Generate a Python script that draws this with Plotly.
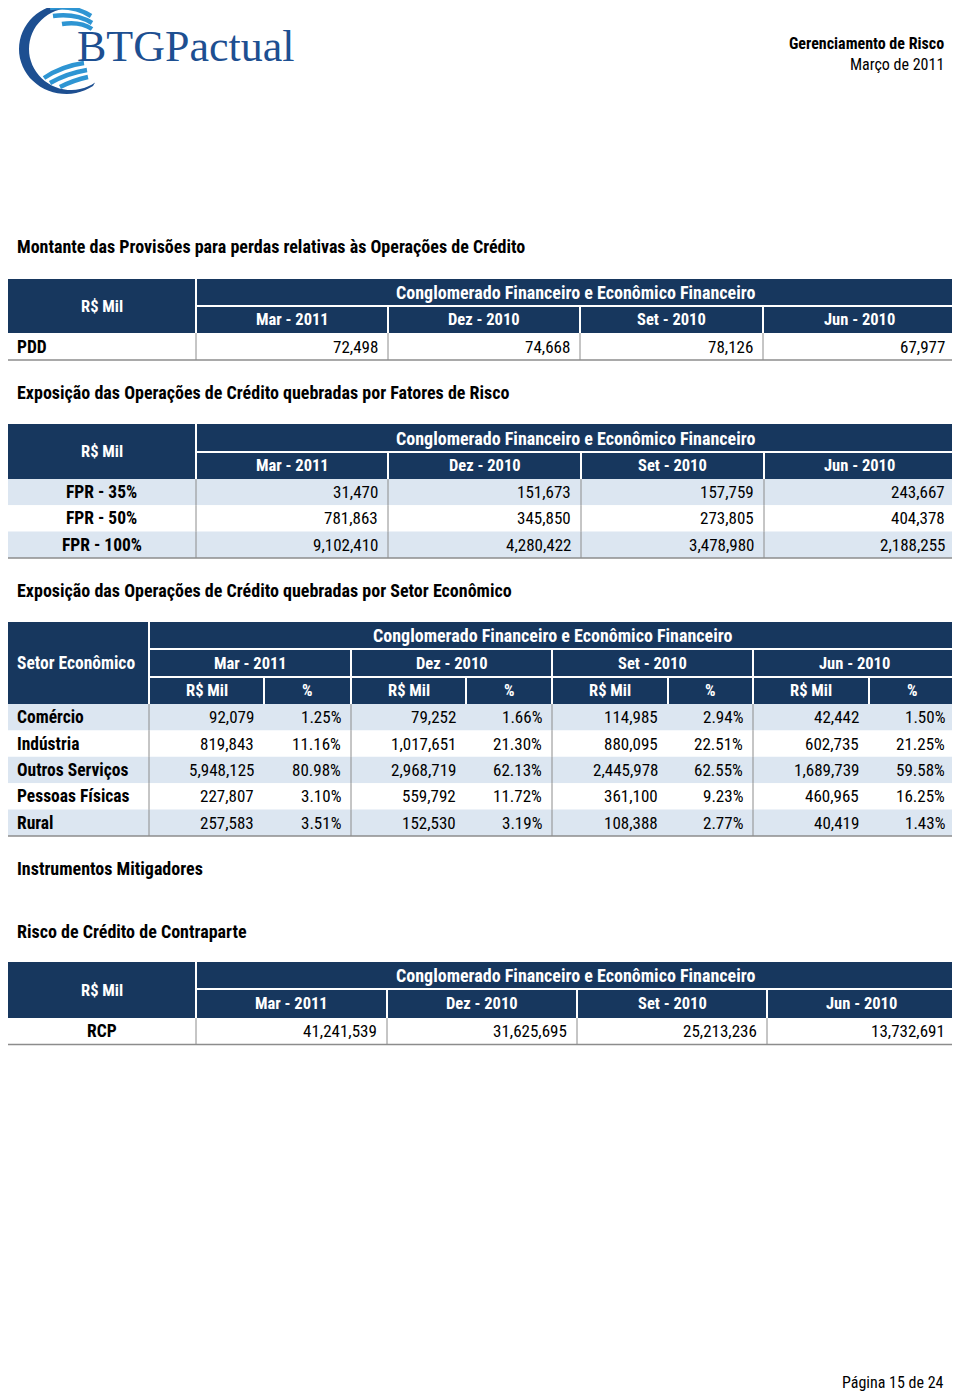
import math
import plotly.graph_objects as go

# ---------------- DATA ----------------
periods = ["Mar - 2011", "Dez - 2010", "Set - 2010", "Jun - 2010"]
group_title = "Conglomerado Financeiro e Econômico Financeiro"

section_titles = [
    "Montante das Provisões para perdas relativas às Operações de Crédito",
    "Exposição das Operações de Crédito quebradas por Fatores de Risco",
    "Exposição das Operações de Crédito quebradas por Setor Econômico",
    "Instrumentos Mitigadores",
    "Risco de Crédito de Contraparte",
]

pdd_label = "PDD"
pdd_values = [72498, 74668, 78126, 67977]

fpr_labels = ["FPR - 35%", "FPR - 50%", "FPR - 100%"]
fpr_mar = [31470, 781863, 9102410]
fpr_dez = [151673, 345850, 4280422]
fpr_set = [157759, 273805, 3478980]
fpr_jun = [243667, 404378, 2188255]

sectors = ["Comércio", "Indústria", "Outros Serviços", "Pessoas Físicas", "Rural"]
sec_mar_val = [92079, 819843, 5948125, 227807, 257583]
sec_mar_pct = [1.25, 11.16, 80.98, 3.10, 3.51]
sec_dez_val = [79252, 1017651, 2968719, 559792, 152530]
sec_dez_pct = [1.66, 21.30, 62.13, 11.72, 3.19]
sec_set_val = [114985, 880095, 2445978, 361100, 108388]
sec_set_pct = [2.94, 22.51, 62.55, 9.23, 2.77]
sec_jun_val = [42442, 602735, 1689739, 460965, 40419]
sec_jun_pct = [1.50, 21.25, 59.58, 16.25, 1.43]
sub_headers = ["R$ Mil", "%"]

rcp_label = "RCP"
rcp_values = [41241539, 31625695, 25213236, 13732691]

doc_title = "Gerenciamento de Risco"
doc_date = "Março de 2011"
page_text = "Página 15 de 24"
logo_text = "BTGPactual"

# ---------------- STYLE ----------------
W, H = 960, 1394
OFF = 8  # page body margin compensation
FONT = "Liberation Sans Narrow, Arial Narrow, Roboto Condensed, Liberation Sans, sans-serif"
NAVY = "#17375E"
LIGHT = "#DCE6F1"
GRID = "#8C8C8C"
FS = 17        # regular values
FS_LAB = 17.5  # bold row labels
FS_HEAD = 16.5 # header cells
FS_TITLE = 18  # section titles / group title

shapes = []
annotations = []


def rect(x0, y0, x1, y1, fill):
    shapes.append(dict(type="rect", xref="x", yref="y", x0=x0, y0=y0, x1=x1, y1=y1,
                       fillcolor=fill, line=dict(width=0), layer="below"))


def line(x0, y0, x1, y1, color, width=1):
    shapes.append(dict(type="line", xref="x", yref="y", x0=x0, y0=y0, x1=x1, y1=y1,
                       line=dict(color=color, width=width), layer="above"))


def text(x, y, s, anchor="left", bold=False, size=FS, color="black", family=FONT):
    if bold:
        s = "<b>" + s + "</b>"
    dx = {"left": -2, "right": 2}.get(anchor, 0)
    annotations.append(dict(x=x + dx, y=y, xref="x", yref="y", text=s, showarrow=False,
                            xanchor=anchor, yanchor="middle",
                            font=dict(family=family, size=size, color=color)))


def fmt_int(v):
    return f"{v:,}"


def fmt_pct(v):
    return f"{v:.2f}%"


LEFT, RIGHT, PAD = 7, 955, 10

# ---------------- HEADER ----------------
text(944, 43, doc_title, anchor="right", bold=True, size=16)
text(944, 64, doc_date, anchor="right", size=16)
text(944, 1382, page_text, anchor="right", size=16)

# ---------------- LOGO ----------------
def arc_pts(cx, cy, rx, ry, a0, a1, n=40):
    pts = []
    for i in range(n + 1):
        a = math.radians(a0 + (a1 - a0) * i / n)
        pts.append((cx + rx * math.cos(a), cy - ry * math.sin(a)))
    return pts

outer = arc_pts(66, 49, 47, 45, 78, 305)
inner = arc_pts(71, 49, 42, 41, 305, 78)
path = "M " + " L ".join(f"{x:.1f},{y:.1f}" for x, y in outer + inner) + " Z"
shapes.append(dict(type="path", xref="x", yref="y", path=path,
                   fillcolor="#1D4F91", line=dict(width=0), layer="above"))
stripe_paths = [
    "M 50,8 Q 74,5 91,16", "M 53,16 Q 76,13 92,23", "M 62,24 Q 80,21 92,29",
    "M 44,78 Q 62,66 84,63", "M 50,83 Q 68,73 87,70", "M 60,87 Q 74,80 88,77",
]
for p in stripe_paths:
    shapes.append(dict(type="path", xref="x", yref="y", path=p,
                       line=dict(color="#2E95D3", width=4.5), layer="above"))
text(77, 46, logo_text, anchor="left", size=44, color="#1D4F91",
     family="Liberation Serif, DejaVu Serif, serif")

# ---------------- SECTION TITLES ----------------
title_y = [246, 392, 590, 868, 931]
for t, y in zip(section_titles, title_y):
    text(17, y, t, bold=True, size=FS_TITLE)


# ---------------- SIMPLE TABLES ----------------
def simple_table(top, mid, hbot, row_h, edges, row_labels, rows, label_center, fills):
    rect(LEFT, top, RIGHT, hbot, NAVY)
    line(edges[0], mid, RIGHT, mid, "white", 2)
    line(edges[0], top, edges[0], hbot, "white", 2)
    for e in edges[1:-1]:
        line(e, mid, e, hbot, "white", 2)
    text((LEFT + edges[0]) / 2, (top + hbot) / 2, "R$ Mil", anchor="center", bold=True,
         color="white", size=FS_HEAD)
    text((edges[0] + RIGHT) / 2, (top + mid) / 2, group_title, anchor="center", bold=True,
         color="white", size=FS_TITLE)
    for i, p in enumerate(periods):
        text((edges[i] + edges[i + 1]) / 2, (mid + hbot) / 2, p, anchor="center", bold=True,
             color="white", size=FS_HEAD)
    y = hbot
    for r, (lab, vals) in enumerate(zip(row_labels, rows)):
        rect(LEFT, y, RIGHT, y + row_h, fills[r % len(fills)])
        for e in edges[:-1]:
            line(e, y, e, y + row_h, GRID, 1)
        if label_center:
            text((LEFT + edges[0]) / 2, y + row_h / 2, lab, anchor="center", bold=True, size=FS_LAB)
        else:
            text(17, y + row_h / 2, lab, bold=True, size=FS_LAB)
        for i, v in enumerate(vals):
            text(edges[i + 1] - PAD, y + row_h / 2, fmt_int(v), anchor="right")
        y += row_h
    line(LEFT, y, RIGHT, y, GRID, 1.5)


# Table 1: PDD
simple_table(279, 306, 333, 27, [196, 388, 580, 763, 955],
             [pdd_label], [pdd_values], False, ["white"])

# Table 2: FPR
fpr_rows = [[fpr_mar[i], fpr_dez[i], fpr_set[i], fpr_jun[i]] for i in range(len(fpr_labels))]
simple_table(424, 452, 479, 26.3, [196, 388, 581, 764, 955],
             fpr_labels, fpr_rows, True, [LIGHT, "white"])

# Table 4: RCP
simple_table(962, 989, 1018, 26.5, [196, 387, 577, 767, 955],
             [rcp_label], [rcp_values], True, ["white"])

# ---------------- SECTOR TABLE ----------------
top, m1, m2, hbot, rh = 622, 649, 677, 704, 26.4
lab_r = 149
groups = [149, 351, 552, 753, 955]
splits = [264, 466, 668, 869]
rect(LEFT, top, RIGHT, hbot, NAVY)
line(lab_r, m1, RIGHT, m1, "white", 2)
line(lab_r, m2, RIGHT, m2, "white", 2)
line(lab_r, top, lab_r, hbot, "white", 2)
for g in groups[1:-1]:
    line(g, m1, g, hbot, "white", 2)
for s in splits:
    line(s, m2, s, hbot, "white", 2)
text(17, (m1 + m2) / 2, "Setor Econômico", bold=True, color="white", size=FS_LAB)
text((lab_r + RIGHT) / 2, (top + m1) / 2, group_title, anchor="center", bold=True,
     color="white", size=FS_TITLE)
for i, p in enumerate(periods):
    text((groups[i] + groups[i + 1]) / 2, (m1 + m2) / 2, p, anchor="center", bold=True,
         color="white", size=FS_HEAD)
    text((groups[i] + splits[i]) / 2, (m2 + hbot) / 2, sub_headers[0], anchor="center",
         bold=True, color="white", size=FS_HEAD)
    text((splits[i] + groups[i + 1]) / 2, (m2 + hbot) / 2, sub_headers[1], anchor="center",
         bold=True, color="white", size=FS_HEAD)

vals_by_period = [sec_mar_val, sec_dez_val, sec_set_val, sec_jun_val]
pcts_by_period = [sec_mar_pct, sec_dez_pct, sec_set_pct, sec_jun_pct]
y = hbot
for r, lab in enumerate(sectors):
    rect(LEFT, y, RIGHT, y + rh, LIGHT if r % 2 == 0 else "white")
    for g in groups[:-1]:
        line(g, y, g, y + rh, GRID, 1)
    text(17, y + rh / 2, lab, bold=True, size=FS_LAB)
    for i in range(4):
        text(splits[i] - PAD, y + rh / 2, fmt_int(vals_by_period[i][r]), anchor="right")
        text(groups[i + 1] - PAD, y + rh / 2, fmt_pct(pcts_by_period[i][r]), anchor="right")
    y += rh
line(LEFT, y, RIGHT, y, GRID, 1.5)

# ---------------- FIGURE ----------------
fig = go.Figure()
fig.update_layout(
    width=W, height=H,
    margin=dict(l=0, r=0, t=0, b=0),
    paper_bgcolor="white", plot_bgcolor="white",
    shapes=shapes, annotations=annotations,
    showlegend=False,
)
fig.update_xaxes(range=[OFF, W + OFF], visible=False, fixedrange=True)
fig.update_yaxes(range=[H + OFF, OFF], visible=False, fixedrange=True)
fig.write_html("out.html")
